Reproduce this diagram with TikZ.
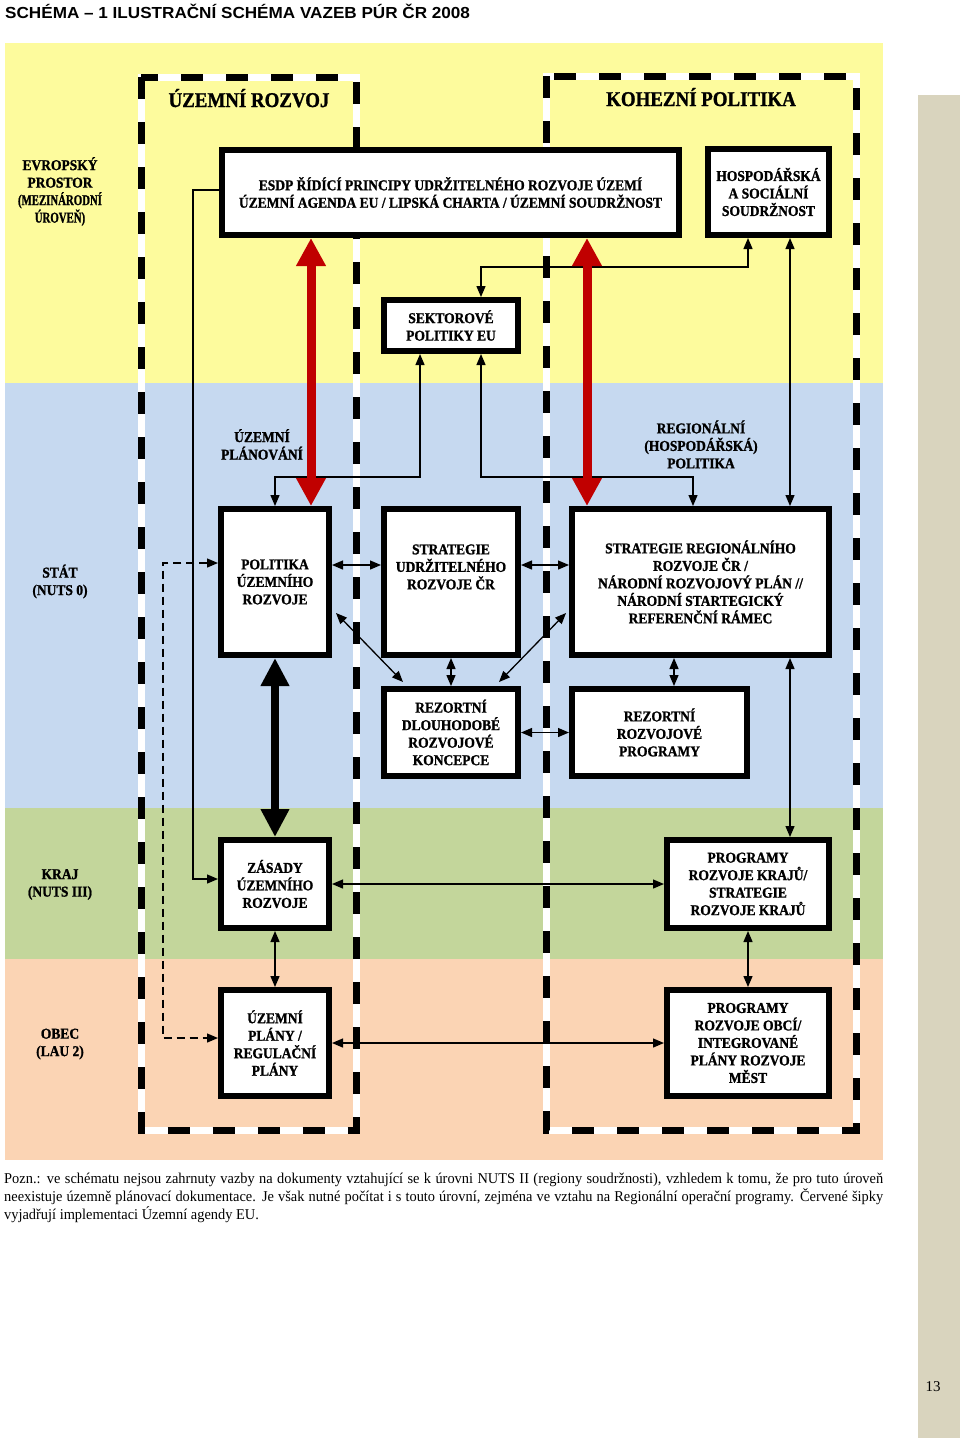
\documentclass[tikz,border=0pt]{standalone}
\usepackage{fontspec}
\setmainfont{Liberation Serif}
\newfontfamily\dgf[FakeStretch=0.9, BoldFont={Liberation Serif Bold}, BoldFeatures={FakeBold=1.2}]{Liberation Serif}
\newfontfamily\dgc[FakeStretch=0.72, BoldFont={Liberation Serif Bold}, BoldFeatures={FakeBold=1.2}]{Liberation Serif}
\newfontfamily\notef[FakeStretch=0.96]{Liberation Serif}
\newfontfamily\ttlf[FakeStretch=1.07, BoldFont={Liberation Sans Bold}]{Liberation Sans}
\usetikzlibrary{arrows.meta,calc}
\definecolor{bandY}{RGB}{253,251,157}
\definecolor{bandB}{RGB}{198,217,240}
\definecolor{bandG}{RGB}{195,214,155}
\definecolor{bandP}{RGB}{251,212,180}
\definecolor{stripc}{RGB}{217,212,190}
\definecolor{redc}{RGB}{192,0,0}
\begin{document}
\begin{tikzpicture}[x=1pt,y=-1pt,
  txt/.style={font=\dgf\bfseries\fontsize{15}{17.5}\selectfont, align=center, inner sep=0pt},
  box/.style={txt, draw=black, line width=6pt, fill=white, outer sep=3pt},
  conn/.style={line width=1.3pt, >={Triangle[length=11pt,width=9pt]}},
  frm/.style={line width=7pt},
  redarrow/.style={draw=redc, line width=9pt, {Triangle[length=28pt,width=28pt]}-{Triangle[length=28pt,width=28pt]}},
  blkarrow/.style={draw=black, line width=8pt, {Triangle[length=28pt,width=27pt]}-{Triangle[length=28pt,width=27pt]}},
  hdr/.style={font=\dgf\bfseries\fontsize{21}{24}\selectfont, inner sep=0pt, anchor=base}
]
\useasboundingbox (0,0) rectangle (960,1438);
\fill[white] (0,0) rectangle (960,1438);
% bands
\fill[bandY] (5,43) rectangle (883,383);
\fill[bandB] (5,383) rectangle (883,808);
\fill[bandG] (5,808) rectangle (883,959);
\fill[bandP] (5,959) rectangle (883,1160);
\fill[stripc] (918,95) rectangle (960,1438);

% title
\node[anchor=base west, font=\ttlf\bfseries\fontsize{16}{19}\selectfont, inner sep=0pt] (title) at (5,18) {SCHÉMA – 1 ILUSTRAČNÍ SCHÉMA VAZEB PÚR ČR 2008};

% frames
\draw[frm, white] (141,77) rectangle (356,1130.5);
\draw[frm, black, dash pattern=on 22pt off 23pt] (141,77) rectangle (356,1130.5);
\draw[frm, white] (546.5,76) rectangle (856.5,1130.5);
\draw[frm, black, dash pattern=on 22pt off 23pt] (546.5,76) rectangle (856.5,1130.5);

% headers
\node[hdr] (hdl) at (249,107) {ÚZEMNÍ ROZVOJ};
\node[hdr] (hdr) at (701,106) {KOHEZNÍ POLITIKA};

% level labels
\node[txt] (evr) at (60,191.5) {EVROPSKÝ\\PROSTOR\\{\dgc\bfseries (MEZINÁRODNÍ}\\{\dgc\bfseries ÚROVEŇ)}};
\node[txt] (stat) at (60,581.5) {STÁT\\(NUTS 0)};
\node[txt] (kraj) at (60,884.5) {KRAJ\\(NUTS III)};
\node[txt] (obec) at (60,1044) {OBEC\\(LAU 2)};
\node[txt] (uplan) at (262,444.5) {ÚZEMNÍ\\PLÁNOVÁNÍ};
\node[txt] (regp) at (701,444.5) {REGIONÁLNÍ\\(HOSPODÁŘSKÁ)\\POLITIKA};

% boxes
\node[box, minimum width=457pt, minimum height=85pt] (esdp) at (450.5,192.5) {ESDP ŘÍDÍCÍ PRINCIPY UDRŽITELNÉHO ROZVOJE ÚZEMÍ\\ÚZEMNÍ AGENDA EU / LIPSKÁ CHARTA / ÚZEMNÍ SOUDRŽNOST};
\node[box, minimum width=121pt, minimum height=86pt] (hosp) at (768.5,192) {HOSPODÁŘSKÁ\\A SOCIÁLNÍ\\SOUDRŽNOST};
\node[box, minimum width=134pt, minimum height=51pt] (sekt) at (451,325.5) {SEKTOROVÉ\\POLITIKY EU};
\node[box, minimum width=108pt, minimum height=146pt] (pol) at (275,582) {POLITIKA\\ÚZEMNÍHO\\ROZVOJE};
\node[box, minimum width=134pt, minimum height=146pt] (sud) at (451,582) {};
\node[txt] (sudt) at (451,567) {STRATEGIE\\UDRŽITELNÉHO\\ROZVOJE ČR};
\node[box, minimum width=257pt, minimum height=146pt] (sreg) at (700.5,582) {STRATEGIE REGIONÁLNÍHO\\ROZVOJE ČR /\\NÁRODNÍ ROZVOJOVÝ PLÁN //\\NÁRODNÍ STARTEGICKÝ\\REFERENČNÍ RÁMEC};
\node[box, minimum width=134pt, minimum height=87pt] (rdl) at (451,732.5) {REZORTNÍ\\DLOUHODOBÉ\\ROZVOJOVÉ\\KONCEPCE};
\node[box, minimum width=175pt, minimum height=87pt] (rrz) at (659.5,732.5) {REZORTNÍ\\ROZVOJOVÉ\\PROGRAMY};
\node[box, minimum width=108pt, minimum height=88pt] (zas) at (275,884) {ZÁSADY\\ÚZEMNÍHO\\ROZVOJE};
\node[box, minimum width=108pt, minimum height=106pt] (upl) at (275,1043) {ÚZEMNÍ\\PLÁNY /\\REGULAČNÍ\\PLÁNY};
\node[box, minimum width=162pt, minimum height=88pt] (pk) at (748,884) {PROGRAMY\\ROZVOJE KRAJŮ/\\STRATEGIE\\ROZVOJE KRAJŮ};
\node[box, minimum width=162pt, minimum height=106pt] (po) at (748,1043) {PROGRAMY\\ROZVOJE OBCÍ/\\INTEGROVANÉ\\PLÁNY ROZVOJE\\MĚST};

% thin connectors
\draw[conn,->] ($(esdp.west)+(0,-2.5)$) -| ($(zas.west)+(-25,-5)$) -- ($(zas.west)+(0,-5)$);
\draw[conn,<->,dash pattern=on 8pt off 5pt] ($(pol.west)+(0,-19)$) -| ($(upl.west)+(-55,-5)$) -- ($(upl.west)+(0,-5)$);
\draw[conn,<->] ($(hosp.south)+(-20.5,0)$) -- ++(0,29) -| ($(sekt.north)+(30,0)$);
\draw[conn,<->] ($(sekt.south)+(-31,0)$) -- ++(0,123) -| (pol.north);
\draw[conn,<->] ($(sekt.south)+(30,0)$) -- ++(0,123) -| ($(sreg.north)+(-7.5,0)$);
\draw[conn,<->] ($(hosp.south)+(21.5,0)$) -- ($(sreg.north)+(89.5,0)$);
\draw[conn,<->] ($(pol.east)+(0,-17)$) -- ($(sud.west)+(0,-17)$);
\draw[conn,<->] ($(sud.east)+(0,-17)$) -- ($(sreg.west)+(0,-17)$);
\draw[conn,<->] ($(pol.east)+(4,31)$) -- ($(rdl.north)+(-48,-4)$);
\draw[conn,<->] ($(sreg.west)+(-3,31)$) -- ($(rdl.north)+(48,-4)$);
\draw[conn,<->] (sud.south) -- (rdl.north);
\draw[conn,<->] ($(sreg.south)+(-26.5,0)$) -- ($(rrz.north)+(14.5,0)$);
\draw[conn,<->] (rdl.east) -- (rrz.west);
\draw[conn,<->] ($(sreg.south)+(89.5,0)$) -- ($(pk.north)+(42,0)$);
\draw[conn,<->] (zas.east) -- (pk.west);
\draw[conn,<->] (upl.east) -- (po.west);
\draw[conn,<->] (zas.south) -- (upl.north);
\draw[conn,<->] (pk.south) -- (po.north);

% thick arrows
\draw[redarrow] ($(esdp.south)+(-139.5,0)$) -- ($(pol.north)+(36,0)$);
\draw[redarrow] ($(esdp.south)+(136.5,0)$) -- ($(sreg.north)+(-113.5,0)$);
\draw[blkarrow] (pol.south) -- (zas.north);

% footnote
\node[anchor=north west, inner sep=0pt, text width=879pt, align=justify, font=\notef\fontsize{15}{18}\selectfont] (note) at (4,1173) {\hyphenpenalty=10000\tolerance=9999 Pozn.: ve schématu nejsou zahrnuty vazby na dokumenty vztahující se k~úrovni NUTS II (regiony soudržnosti), vzhledem k~tomu, že pro tuto úroveň\linebreak neexistuje územně plánovací dokumentace. Je však nutné počítat i~s~touto úrovní, zejména ve vztahu na Regionální operační programy. Červené šipky\linebreak vyjadřují implementaci Územní agendy EU.};

% page number
\node[font=\fontsize{15}{18}\selectfont, inner sep=0pt] (pg) at (933,1387) {13};
\end{tikzpicture}
\end{document}
